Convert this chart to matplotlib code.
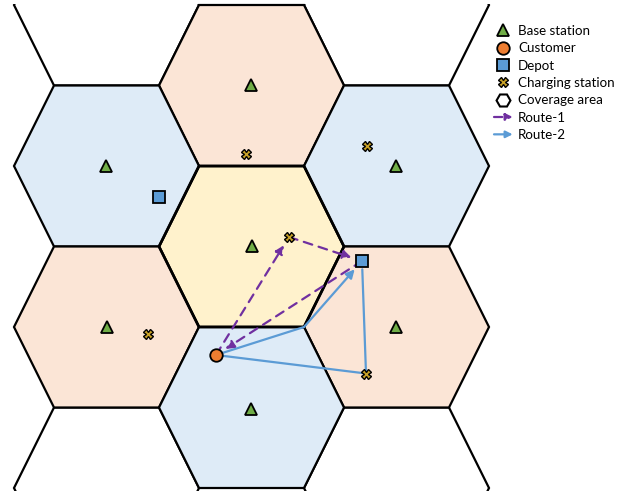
import matplotlib
matplotlib.use("Agg")
import matplotlib.pyplot as plt
from matplotlib.patches import Polygon, FancyArrowPatch, Rectangle
from matplotlib.lines import Line2D
from matplotlib.legend_handler import HandlerBase

plt.rcParams['font.family'] = ['Lato', 'DejaVu Sans']

# ---- data (pixel-like coordinates, y down) ----
hex_centers_x = [251.5, 251.5, 106.5, 396.5, 106.5, 396.5, 251.5, 106.5, 396.5, 106.5, 396.5]
hex_centers_y = [246.5, 85.5, 166.0, 166.0, 327.0, 327.0, 407.5, 5.0, 5.0, 488.0, 488.0]
hex_colors = ['#FFF2CC', '#FBE5D6', '#DEEBF7', '#DEEBF7', '#FBE5D6', '#FBE5D6', '#DEEBF7',
              'white', 'white', 'white', 'white']

base_x = [251.5, 250.5, 105.5, 396.0, 107.0, 396.0, 251.0]
base_y = [246.0, 85.0, 166.0, 166.0, 327.0, 327.0, 409.0]

customer_x = [216.0]
customer_y = [355.0]

depot_x = [159.0, 362.0]
depot_y = [197.0, 261.0]

charge_x = [245.5, 289.0, 366.5, 147.5, 366.0]
charge_y = [153.5, 237.0, 145.5, 333.5, 373.5]

# Route-1: customer -> charging -> depot -> customer
route1_x = [216.0, 289.0, 362.0, 216.0]
route1_y = [355.0, 237.0, 261.0, 355.0]
# Route-2 segments
route2a_x = [216.0, 304.0, 362.0]   # customer -> waypoint -> depot
route2a_y = [355.0, 327.0, 261.0]
route2b_x = [216.0, 366.0, 362.0]   # customer -> charging -> depot
route2b_y = [355.0, 373.5, 261.0]

labels = ['Base station', 'Customer', 'Depot', 'Charging station', 'Coverage area', 'Route-1', 'Route-2']

# hexagon shape (slightly non-regular, as in the figure)
HR, HA, HH = 92.5, 52.5, 80.5

C_PURPLE = '#7030A0'
C_BLUE = '#5B9BD5'
C_GREEN = '#70AD47'
C_ORANGE = '#ED7D31'
C_GOLD = '#C9A227'

fig = plt.figure(figsize=(6.18, 4.91), dpi=100)
ax = fig.add_axes([0, 0, 1, 1])
ax.set_xlim(0, 618)
ax.set_ylim(491, 0)
ax.axis('off')

clip = Rectangle((0, 4), 618, 487, transform=ax.transData, visible=False)
ax.add_patch(clip)

for cx, cy, col in zip(hex_centers_x, hex_centers_y, hex_colors):
    verts = [(cx - HR, cy), (cx - HA, cy - HH), (cx + HA, cy - HH),
             (cx + HR, cy), (cx + HA, cy + HH), (cx - HA, cy + HH)]
    p = Polygon(verts, closed=True, facecolor=col, edgecolor='black', lw=1.6, zorder=1)
    ax.add_patch(p)
    if col == 'white':
        p.set_zorder(0.5)
        p.set_clip_path(clip)
# redraw the centre hex edge on top (it looks heavier)
cx, cy = hex_centers_x[0], hex_centers_y[0]
verts = [(cx - HR, cy), (cx - HA, cy - HH), (cx + HA, cy - HH),
         (cx + HR, cy), (cx + HA, cy + HH), (cx - HA, cy + HH)]
ax.add_patch(Polygon(verts, closed=True, facecolor='none', edgecolor='black', lw=2.0, zorder=2))


def arrow(x0, y0, x1, y1, color, ls, head=True, shrinkB=0):
    style = '-|>,head_length=5,head_width=2.5' if head else '-'
    p = FancyArrowPatch((x0, y0), (x1, y1), arrowstyle=style, mutation_scale=1,
                        color=color, lw=1.6, linestyle=ls, shrinkA=0, shrinkB=shrinkB,
                        zorder=3)
    ax.add_patch(p)

# Route-1 (dashed purple), arrow at every leg end
shr1 = [7, 8, 8]
for i in range(len(route1_x) - 1):
    arrow(route1_x[i], route1_y[i], route1_x[i + 1], route1_y[i + 1], C_PURPLE, (0, (4, 3)),
          head=True, shrinkB=shr1[i])

# Route-2 (solid blue)
arrow(route2a_x[0], route2a_y[0], route2a_x[1], route2a_y[1], C_BLUE, '-', head=False)
arrow(route2a_x[1], route2a_y[1], route2a_x[2], route2a_y[2], C_BLUE, '-', head=True, shrinkB=8)
arrow(route2b_x[0], route2b_y[0], route2b_x[1], route2b_y[1], C_BLUE, '-', head=False)
arrow(route2b_x[1], route2b_y[1], route2b_x[2], route2b_y[2], C_BLUE, '-', head=False, shrinkB=6)

ms = 9
ax.plot(base_x, base_y, ls='none', marker='^', ms=ms, mfc=C_GREEN, mec='black', mew=1.3, zorder=5)
ax.plot(customer_x, customer_y, ls='none', marker='o', ms=ms, mfc=C_ORANGE, mec='black', mew=1.3, zorder=5)
ax.plot(depot_x, depot_y, ls='none', marker='s', ms=ms, mfc=C_BLUE, mec='black', mew=1.3, zorder=5)
ax.plot(charge_x, charge_y, ls='none', marker='X', ms=7, mfc=C_GOLD, mec='black', mew=1.0, zorder=5)


class HandlerRoute(HandlerBase):
    def create_artists(self, legend, orig_handle, xdescent, ydescent, width, height, fontsize, trans):
        y = height / 2 - ydescent
        p = FancyArrowPatch((-xdescent, y), (-xdescent + width, y),
                            arrowstyle='-|>,head_length=4,head_width=2', mutation_scale=1,
                            color=orig_handle.get_color(), lw=1.6,
                            linestyle=orig_handle.get_linestyle(), shrinkA=0, shrinkB=0,
                            transform=trans)
        return [p]


h_base = Line2D([], [], ls='none', marker='^', ms=ms, mfc=C_GREEN, mec='black', mew=1.3)
h_cust = Line2D([], [], ls='none', marker='o', ms=ms, mfc=C_ORANGE, mec='black', mew=1.3)
h_dep = Line2D([], [], ls='none', marker='s', ms=ms, mfc=C_BLUE, mec='black', mew=1.3)
h_ch = Line2D([], [], ls='none', marker='X', ms=7, mfc=C_GOLD, mec='black', mew=1.0)
h_hex = Line2D([], [], ls='none', marker='H', ms=ms + 1, mfc='white', mec='black', mew=1.5)
h_r1 = Line2D([], [], color=C_PURPLE, ls=(0, (3, 2)))
h_r2 = Line2D([], [], color=C_BLUE, ls='-')

leg = ax.legend([h_base, h_cust, h_dep, h_ch, h_hex, h_r1, h_r2], labels,
                handler_map={h_r1: HandlerRoute(), h_r2: HandlerRoute()},
                loc='upper left', bbox_to_anchor=(494 / 618, 1 - 25 / 491),
                frameon=False, fontsize=9.6, handlelength=1.4, handletextpad=0.4,
                labelspacing=0.4, borderpad=0, borderaxespad=0)

fig.savefig('out.png', dpi=100)
